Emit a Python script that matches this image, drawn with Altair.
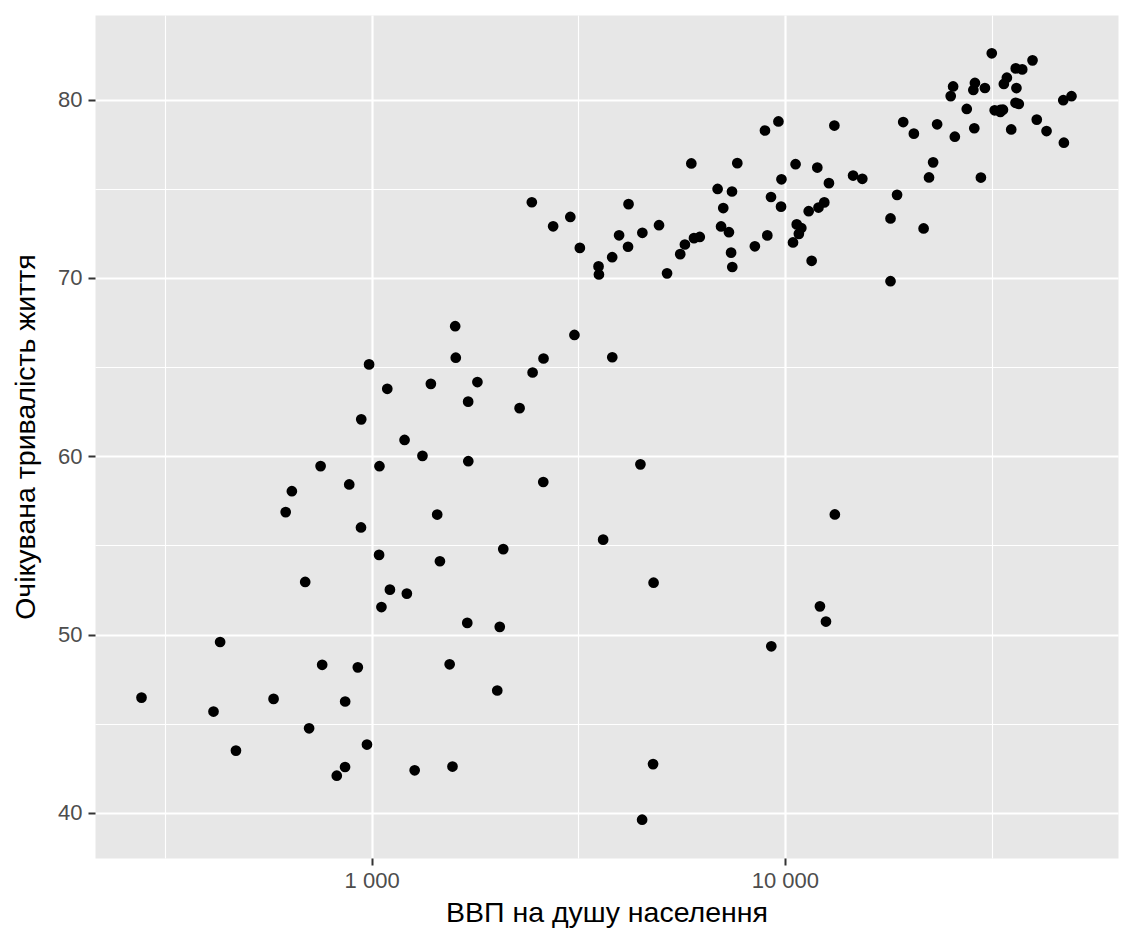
import altair as alt
import pandas as pd

# GDP per capita and life expectancy (one point per country)
gdp = [974.58, 5937.03, 6223.37, 4797.23, 12779.38, 34435.37, 36126.49, 29796.05,
       1391.25, 33692.61, 1441.28, 3822.14, 7446.30, 12569.85, 9065.80, 10680.79,
       1217.03, 430.07, 1713.78, 2042.10, 36319.24, 706.02, 1704.06, 13171.64,
       4959.11, 7006.58, 986.15, 277.55, 3632.56, 9645.06, 1544.75, 14619.22,
       8948.10, 22833.31, 35278.42, 2082.48, 6025.37, 6873.26, 5581.18, 5728.35,
       12154.09, 641.37, 690.81, 33207.08, 30470.02, 13206.48, 752.75, 32170.37,
       1327.61, 27538.41, 5186.05, 942.65, 579.23, 1201.64, 3548.33, 39724.98,
       18008.94, 36180.79, 2452.21, 3540.65, 11605.71, 4471.06, 40675.00, 25523.28,
       28569.72, 7320.88, 31656.07, 4519.46, 1463.25, 1593.07, 23348.14, 47306.99,
       10461.06, 1569.33, 414.51, 12057.50, 1044.77, 759.35, 12451.66, 1042.58,
       1803.15, 10956.99, 11977.57, 3095.77, 9253.90, 3820.18, 823.69, 944.00,
       4811.06, 1091.36, 36797.93, 25185.01, 2749.32, 619.68, 2013.98, 49357.19,
       22316.19, 2605.95, 9809.19, 4172.84, 7408.91, 3190.48, 15389.92, 20509.65,
       19328.71, 7670.12, 10808.48, 863.09, 1598.44, 21654.83, 1712.47, 9786.53,
       862.54, 47143.18, 18678.31, 25768.26, 926.14, 9269.66, 28821.06, 3970.10,
       2602.39, 4513.48, 33859.75, 37506.42, 4184.55, 28718.28, 1107.48, 7458.40,
       882.97, 18008.51, 7092.92, 8458.28, 1056.38, 33203.26, 42951.65, 10611.46,
       11415.81, 2441.58, 3025.35, 2280.77, 1271.21, 469.71]

life = [43.828, 76.423, 72.301, 42.731, 75.320, 81.235, 79.829, 75.635,
        64.062, 79.441, 56.728, 65.554, 74.852, 50.728, 72.390, 73.005,
        52.295, 49.580, 59.723, 50.430, 80.653, 44.741, 50.651, 78.553,
        72.961, 72.889, 65.152, 46.462, 55.322, 78.782, 48.328, 75.748,
        78.273, 76.486, 78.332, 54.791, 72.235, 74.994, 71.338, 71.878,
        51.579, 58.040, 52.947, 79.313, 80.657, 56.735, 59.448, 79.406,
        60.022, 79.483, 70.259, 56.007, 46.388, 60.916, 70.198, 82.208,
        73.338, 81.757, 64.698, 70.650, 70.964, 59.545, 78.885, 80.745,
        80.546, 72.567, 82.603, 72.535, 54.110, 67.297, 78.623, 77.588,
        71.993, 42.592, 45.678, 73.952, 59.443, 48.303, 74.241, 54.467,
        64.164, 72.801, 76.195, 66.803, 74.543, 71.164, 42.082, 62.069,
        52.906, 63.785, 79.762, 80.204, 72.899, 56.867, 46.859, 80.196,
        75.640, 65.483, 75.537, 71.752, 71.421, 71.688, 75.563, 78.098,
        78.746, 76.442, 72.476, 46.242, 65.528, 72.777, 63.062, 74.002,
        42.568, 79.972, 74.663, 77.926, 48.159, 49.339, 80.941, 72.396,
        58.556, 39.613, 80.884, 81.701, 74.143, 78.400, 52.517, 70.616,
        58.420, 69.819, 73.923, 71.777, 51.542, 79.425, 78.242, 76.384,
        73.747, 74.249, 73.422, 62.698, 42.384, 43.487]

x_major = [1000, 10000]
x_minor = [316.2278, 3162.278, 31622.78]
y_major = [40, 50, 60, 70, 80]
y_minor = [45, 55, 65, 75]

x_title = "ВВП на душу населення"
y_title = "Очікувана тривалість життя"

df = pd.DataFrame({"gdp": gdp, "life": life})

x_test = " || ".join(f"datum.value == {v}" for v in x_major)
y_test = " || ".join(f"datum.value == {v}" for v in y_major)

FONT = "Liberation Sans"

x_axis = alt.Axis(
    values=sorted(x_major + x_minor),
    title=x_title,
    labelExpr=f"({x_test}) ? replace(format(datum.value, ',d'), ',', ' ') : ''",
    grid=True,
    gridColor="white",
    gridWidth={"condition": {"test": x_test, "value": 2.2}, "value": 1.1},
    tickOpacity={"condition": {"test": x_test, "value": 1}, "value": 0},
    tickColor="#333333",
    tickWidth=2,
    tickSize=7,
    domain=False,
    labelFont=FONT,
    labelFontSize=22,
    labelColor="#4D4D4D",
    labelPadding=5,
    titleFont=FONT,
    titleFontSize=28.5,
    titleFontWeight="normal",
    titleColor="black",
    titlePadding=7,
)

y_axis = alt.Axis(
    values=sorted(y_major + y_minor),
    title=y_title,
    labelExpr=f"({y_test}) ? datum.label : ''",
    grid=True,
    gridColor="white",
    gridWidth={"condition": {"test": y_test, "value": 2.2}, "value": 1.1},
    tickOpacity={"condition": {"test": y_test, "value": 1}, "value": 0},
    tickColor="#333333",
    tickWidth=2,
    tickSize=7,
    domain=False,
    labelFont=FONT,
    labelFontSize=22,
    labelColor="#4D4D4D",
    labelPadding=6,
    titleFont=FONT,
    titleFontSize=28.5,
    titleFontWeight="normal",
    titleColor="black",
    titlePadding=17,
)

chart = (
    alt.Chart(df)
    .mark_circle(color="black", opacity=1, size=115)
    .encode(
        x=alt.X("gdp:Q", scale=alt.Scale(type="log", domain=[214.2, 63952], nice=False), axis=x_axis),
        y=alt.Y("life:Q", scale=alt.Scale(domain=[37.4635, 84.7525], nice=False, zero=False), axis=y_axis),
    )
    .properties(
        width=1023,
        height=843,
        autosize=alt.AutoSizeParams(type="none"),
        padding={"left": 87, "top": 7, "right": 7, "bottom": 78},
        background="white",
    )
    .configure_view(fill="#E7E7E7", stroke="transparent")
)

chart.save("out.html", embed_options={"renderer": "svg", "actions": False})
